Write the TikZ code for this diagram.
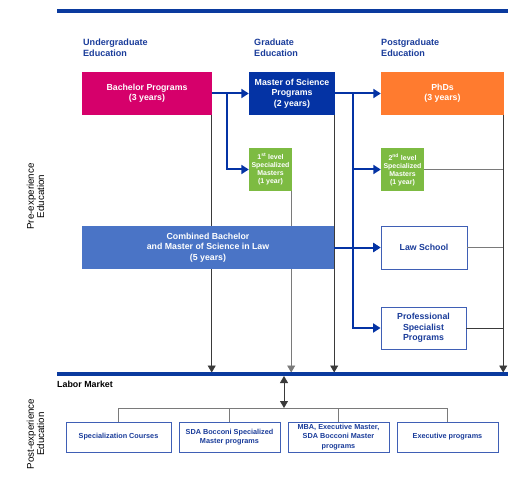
\documentclass[tikz,border=0pt]{standalone}
\usepackage{fontspec}
\setmainfont{Liberation Sans}
\usetikzlibrary{arrows.meta,backgrounds}
\definecolor{navy}{HTML}{0A3A9E}
\definecolor{magentab}{HTML}{D6006B}
\definecolor{msblue}{HTML}{0433A4}
\definecolor{orangeb}{HTML}{FF7B2F}
\definecolor{greenb}{HTML}{7DBB42}
\definecolor{combblue}{HTML}{4A74C6}
\definecolor{outblue}{HTML}{3F5FB5}
\definecolor{txtblue}{HTML}{1A3C9A}
\definecolor{grayline}{HTML}{3A3A3A}
\definecolor{lightgray}{HTML}{7A7A7A}
\tikzset{
  box/.style={minimum height=43bp, inner sep=1bp, align=center, font=\fontsize{8.8}{10.3}\selectfont\bfseries, text=white},
  smallbox/.style={minimum width=43bp, minimum height=43bp, inner sep=0bp, align=center, fill=greenb, text=white, font=\fontsize{7}{8}\selectfont\bfseries},
  wbox/.style={minimum height=43bp, inner sep=1bp, align=center, draw=outblue, line width=0.9bp, fill=white, text=txtblue, font=\fontsize{8.8}{10.3}\selectfont\bfseries},
  bbox/.style={minimum height=30bp, inner sep=1bp, align=center, draw=outblue, line width=0.9bp, fill=white, text=txtblue, font=\fontsize{7.3}{9.6}\selectfont\bfseries},
  header/.style={anchor=north west, inner sep=0pt, align=left, text=txtblue, font=\fontsize{9.1}{11}\selectfont\bfseries},
  side/.style={rotate=90, align=center, inner sep=0pt, font=\fontsize{9.8}{10.5}\selectfont},
  barrow/.style={draw=msblue, line width=2bp, -{Triangle[length=7.5bp,width=9bp]}},
  bline/.style={draw=msblue, line width=2bp},
  garrow/.style={draw=grayline, line width=0.8bp, -{Triangle[length=7bp,width=8bp]}},
  lgline/.style={draw=lightgray, line width=0.8bp},
  gline/.style={draw=grayline, line width=0.8bp},
  gbiarrow/.style={draw=grayline, line width=0.8bp, {Triangle[length=7bp,width=8bp]}-{Triangle[length=7bp,width=8bp]}},
  thick bar/.style={draw=navy, line width=3.3bp}
}
\begin{document}
\begin{tikzpicture}[x=1bp,y=-1bp]
\useasboundingbox (0,0) rectangle (516,489);
% top bar
\coordinate (tl) at (57,11);
\coordinate (tr) at (508,11);
\draw[thick bar] (tl) -- (tr);
% headers
\node[header] (h1) at (83,38.5) {Undergraduate\\Education};
\node[header] (h2) at (254,38.5) {Graduate\\Education};
\node[header] (h3) at (381,38.5) {Postgraduate\\Education};
% side labels
\node[side] (pre) at (35.5,196.5) {Pre-experience\\Education};
\node[side] (post) at (35.5,434) {Post-experience\\Education};
% boxes
\node[box, fill=magentab, minimum width=130bp] (bach) at (147,93.5) {Bachelor Programs\\(3 years)};
\node[box, fill=msblue, minimum width=86bp] (ms) at (292,93.5) {Master of Science\\Programs\\(2 years)};
\node[box, fill=orangeb, minimum width=123bp] (phd) at (442.5,93.5) {PhDs\\(3 years)};
\node[smallbox] (first) at (270.5,169.5) {1\textsuperscript{st} level\\Specialized\\Masters\\(1 year)};
\node[smallbox] (second) at (402.5,169.5) {2\textsuperscript{nd} level\\Specialized\\Masters\\(1 year)};
\node[box, fill=combblue, minimum width=252bp] (comb) at (208,247.5) {Combined Bachelor\\and Master of Science in Law\\(5 years)};
\node[wbox, minimum width=86bp] (law) at (424,247.5) {Law School};
\node[wbox, minimum width=85bp, minimum height=42bp] (prof) at (423.5,328) {Professional\\Specialist\\Programs};
% labor market line
\coordinate (ll) at (57,374);
\coordinate (lr) at (508,374);
\coordinate (lmtop) at (57,372.5);
\draw[thick bar] (ll) -- (lr);
\node[anchor=west, inner sep=0pt, font=\fontsize{8.9}{10}\selectfont\bfseries] (lm) at (57,384) {Labor Market};
% bottom boxes
\node[bbox, minimum width=105bp] (b1) at (118.5,437) {Specialization Courses};
\node[bbox, minimum width=101bp] (b2) at (229.5,437) {SDA Bocconi Specialized\\Master programs};
\node[bbox, minimum width=101bp] (b3) at (338.5,437) {MBA, Executive Master,\\SDA Bocconi Master\\programs};
\node[bbox, minimum width=101bp] (b4) at (447.5,437) {Executive programs};
% anchor coordinates for vertical gray lines
\coordinate (vb) at ([xshift=-0.5bp]bach.south east);
\coordinate (vf) at ([xshift=-1bp]first.south east);
\coordinate (vm) at ([xshift=-1bp]ms.south east);
\coordinate (vp) at ([xshift=-1bp]phd.south east);
% gray connectors behind boxes
\begin{scope}[on background layer]
\draw[garrow] (vb) -- (vb |- lmtop);
\draw[garrow, draw=lightgray] (vf) -- (vf |- lmtop);
\draw[garrow] (vm) -- (vm |- lmtop);
\draw[garrow] (vp) -- (vp |- lmtop);
\end{scope}
\draw[lgline] (second.east) -- (second.east -| vp);
\draw[lgline] (law.east) -- (law.east -| vp);
\draw[gline] (prof.east) -- (prof.east -| vp);
% blue connectors
\coordinate (j1) at (227,93.5);
\coordinate (j2) at (353,93.5);
\draw[barrow] (bach.east) -- (ms.west);
\draw[barrow] (ms.east) -- (phd.west);
\draw[barrow] (j1) |- (first.west);
\draw[bline] (j2) -- (j2 |- prof.west);
\draw[barrow] (j2) |- (second.west);
\draw[barrow] (j2) |- (law.west);
\draw[barrow] (j2) |- (prof.west);
\draw[barrow] (comb.east) -- (law.west);
% post-experience tree
\coordinate (lmx) at (284,376);
\coordinate (tree) at (284,408);
\draw[gbiarrow] (lmx) -- (tree);
\draw[lgline] (b1.north |- tree) -- (b4.north |- tree);
\draw[lgline] (b1.north |- tree) -- (b1.north);
\draw[lgline] (b2.north |- tree) -- (b2.north);
\draw[lgline] (b3.north |- tree) -- (b3.north);
\draw[lgline] (b4.north |- tree) -- (b4.north);
\end{tikzpicture}
\end{document}
